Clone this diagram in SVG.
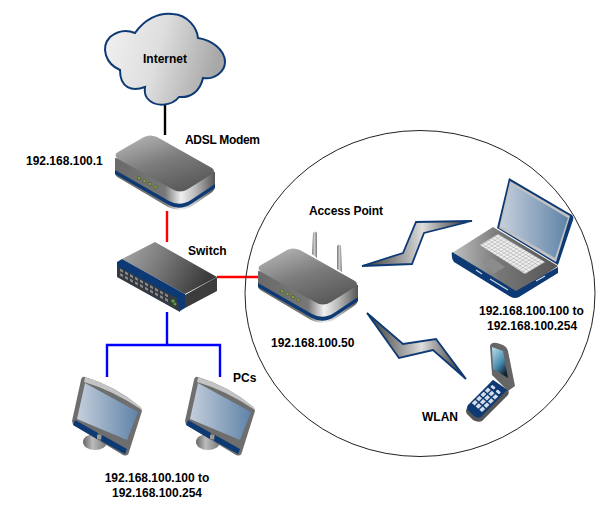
<svg xmlns="http://www.w3.org/2000/svg" xmlns:xlink="http://www.w3.org/1999/xlink" width="612" height="532" viewBox="0 0 612 532">
<style>
text{font-family:"Liberation Sans",Arial,sans-serif;font-size:12px;font-weight:bold;fill:#000}
.c{text-anchor:middle}
.k{fill:none;stroke-width:2.4}
.led{fill:#8c9c40;stroke:#3c5a30;stroke-width:.6}
.navy{fill:#0d3a74}
.key{fill:#d5dde8}
.b{stroke:#0d3a74;stroke-width:1.800;stroke-linejoin:miter}
</style>
<defs>
<linearGradient id="cloud" x1="0" y1="0" x2="1" y2="0.2"><stop offset="0" stop-color="#f2f2f2"/><stop offset=".5" stop-color="#dedede"/><stop offset="1" stop-color="#a8a8a8"/></linearGradient>
<linearGradient id="top" x1="0.1" y1="0" x2="0.7" y2="1"><stop offset="0" stop-color="#b8b8b8"/><stop offset=".5" stop-color="#7c7c7c"/><stop offset="1" stop-color="#585858"/></linearGradient>
<linearGradient id="wall" x1="0" y1="0" x2="1" y2="0"><stop offset="0" stop-color="#6a6a6a"/><stop offset=".5" stop-color="#777"/><stop offset=".66" stop-color="#f0f0f0"/><stop offset=".8" stop-color="#bbb"/><stop offset="1" stop-color="#555"/></linearGradient>
<linearGradient id="screen" x1="0" y1="0" x2="1" y2="0"><stop offset="0" stop-color="#c5cfdc"/><stop offset="1" stop-color="#5f83a8"/></linearGradient>
<linearGradient id="bolt" x1="0" y1="0" x2="1" y2="0"><stop offset="0" stop-color="#333"/><stop offset=".45" stop-color="#bbb"/><stop offset=".55" stop-color="#ddd"/><stop offset="1" stop-color="#222"/></linearGradient>
<linearGradient id="swtop" x1="0" y1="0" x2="1" y2="0.3"><stop offset="0" stop-color="#aaa"/><stop offset=".5" stop-color="#777"/><stop offset="1" stop-color="#3c3c3c"/></linearGradient>
<linearGradient id="phone" x1="0" y1="0" x2="0.6" y2="1"><stop offset="0" stop-color="#bfe0ee"/><stop offset=".6" stop-color="#4a8fb0"/><stop offset="1" stop-color="#123"/></linearGradient>
<linearGradient id="deck" x1="0" y1="0" x2="1" y2="0"><stop offset="0" stop-color="#c0c0c0"/><stop offset=".45" stop-color="#777"/><stop offset="1" stop-color="#555"/></linearGradient>
<linearGradient id="stand" x1="0" y1="0" x2="1" y2="0"><stop offset="0" stop-color="#666"/><stop offset=".4" stop-color="#bbb"/><stop offset="1" stop-color="#777"/></linearGradient>
<linearGradient id="ant" x1="0" y1="0" x2="1" y2="0"><stop offset="0" stop-color="#777"/><stop offset=".5" stop-color="#ccc"/><stop offset="1" stop-color="#777"/></linearGradient>
<pattern id="keys" width="3.600" height="3.600" patternUnits="userSpaceOnUse" patternTransform="matrix(.86,.5,-.85,.53,0,0)"><rect width="3.600" height="3.600" fill="#eee"/><path d="M0,0H3.600M0,0V3.600" stroke="#888" stroke-width=".7" fill="none"/></pattern>
<g id="router">
<path d="M115,158 L115,173 Q115,176 119,178 L168,207 Q180,213 192,206 L211,193 Q215,190 215,186 L215,172 Z" fill="url(#wall)"/>
<path d="M115,170 L169,201 Q180,207 191,200 L215,184 L215,188 L191,204 Q180,211 169,205 L115,174 Z" class="navy"/>
<path d="M118,152 L144,137 Q150,134 157,137 L212,168 Q216,171 212,174 L188,189 Q180,194 172,189 L118,159 Q113,155 118,152 Z" fill="url(#top)"/>
<circle class="led" cx="139" cy="178" r="1.700"/><circle class="led" cx="144.500" cy="181" r="1.700"/><circle class="led" cx="150" cy="184" r="1.700"/><circle class="led" cx="155.500" cy="187" r="1.700"/>
</g>
<g id="monitor">
<ellipse cx="95" cy="442" rx="12" ry="8" fill="url(#stand)"/>
<path d="M85,377 Q82,376 81,380 L72,421 Q72,424 75,426 L123,455 Q128,457 129,452 L142,411 Q142,408 139,406 Q115,386 85,377 Z" fill="#6e6e6e"/>
<path d="M85,377 Q115,386 139,406 Q142,408 142,410 Q112,390 84,382 Z" fill="#c4c4c4"/>
<path d="M85,383 L138,412 L127,440 L77,419 Z" fill="url(#screen)"/>
<path d="M75,420 L98,433 L97,439 L73,425 Z M102,435 L127,449 L125,454 L101,441 Z" class="navy"/>
<rect x="97" y="435" width="4" height="4" fill="#999"/>
</g>
</defs>
<rect width="612" height="532" fill="#fff"/>
<g id="connectors">
<path d="M165,105V135" class="k" stroke="#000"/>
<path d="M167,211V242M217,277H258" class="k" stroke="#f00"/>
<path d="M167,312V345M107,377V345H220V377" class="k" stroke="#00f"/>
</g>
<ellipse id="wlan-zone" cx="420" cy="293.500" rx="175" ry="163" fill="none" stroke="#222" stroke-width="1"/>
<g id="internet">
<path d="M110,37 C120,29 128,30 135,33 C144,20 158,12 173,14 C188,15 197,28 198,38 C212,40 225,50 225,62 C225,72 214,80 203,78 C200,92 190,98 179,97 C172,106 155,108 147,98 C144,94 145,87 145,87 C132,92 120,88 120,70 C106,64 100,48 110,37 Z" fill="url(#cloud)" stroke="#0d3a74" stroke-width="2"/>
<text x="143" y="63">Internet</text>
</g>
<g id="adsl-modem">
<use xlink:href="#router" href="#router"/>
<text x="185" y="144" textLength="75">ADSL Modem</text>
<text x="26" y="165">192.168.100.1</text>
</g>
<g id="switch">
<path d="M155,242 L217,277 L185,294 L122,259 Z" fill="url(#swtop)"/>
<path d="M185,295 L217,277 V291 L185,308 Z" fill="#3c3c3c"/>
<path d="M117,262 L180,298 V312 L117,277 Z" fill="#333a42"/>
<path d="M117,262 L122,259 L185,294 V308 L180,311 L177,298 L117,266 Z" class="navy"/>
<g transform="matrix(1,.55,0,1,0,0)" fill="#8a8a8a">
<path d="M120,202.500h3v2.500h-3zM125,202.500h3v2.500h-3zM130,202.500h3v2.500h-3zM135,202.500h3v2.500h-3zM140,202.500h3v2.500h-3zM145,202.500h3v2.500h-3zM150,202.500h3v2.500h-3zM155,202.500h3v2.500h-3zM160,202.500h3v2.500h-3zM165,202.500h3v2.500h-3zM120,207h3v2.500h-3zM125,207h3v2.500h-3zM130,207h3v2.500h-3zM135,207h3v2.500h-3zM140,207h3v2.500h-3zM145,207h3v2.500h-3zM150,207h3v2.500h-3zM155,207h3v2.500h-3zM160,207h3v2.500h-3zM165,207h3v2.500h-3z"/>
</g>
<circle cx="173" cy="301" r="1.800" fill="#5ca040"/><circle cx="175" cy="304" r="1.500" fill="#5ca040"/>
<text x="188" y="255">Switch</text>
</g>
<g id="access-point">
<path d="M313,233 Q315,230 317,233 L317,258 L312,254 Z" fill="url(#ant)"/>
<path d="M337,246 Q339,243 341,246 L342,272 L337,269 Z" fill="url(#ant)"/>
<use xlink:href="#router" href="#router" transform="translate(143,113)"/>
<text x="309" y="215" textLength="74">Access Point</text>
<text x="271" y="347">192.168.100.50</text>
</g>
<g id="pc-1"><use xlink:href="#monitor" href="#monitor"/></g>
<g id="pc-2"><use xlink:href="#monitor" href="#monitor" transform="translate(113,0)"/>
<text x="233" y="382">PCs</text>
</g>
<text x="157" y="482" class="c">192.168.100.100 to</text>
<text x="157" y="497" class="c">192.168.100.254</text>
<g id="wireless">
<path d="M362,266 L403,253 L416,222 L472,221 L424,233 L412,264 Z" fill="url(#bolt)" class="b"/>
<path d="M367,313 L403,344 L436,339 L466,379 L433,350 L399,358 Z" fill="url(#bolt)" class="b"/>
</g>
<g id="laptop">
<path d="M509,178 L572,215 Q574,217 573,220 L558,265 L497,228 Z" fill="#0d3a74"/>
<path d="M510,181 L570,216 L556,262 L499,228 Z" fill="#c2c2c2"/>
<path d="M511,184 L568,218 L555,258 L501,226 Z" fill="url(#screen)"/>
<path d="M452,253 L493,227 L558,266 L520,292 L514,296 Z" fill="url(#deck)"/>
<path d="M452,252 L516,291 L558,267 L558,273 L519,297 Q515,299 511,297 L454,262 Q451,258 452,252 Z" class="navy"/>
<path d="M480,245 L498,234 L545,262 L525,274 Z" fill="url(#keys)"/>
<path d="M482,262 L492,258 L505,267 L493,274 Z" fill="#8c8c8c"/>
<path d="M476,270L482,274M490,279L508,290M536,281L545,276" stroke="#cfd8e4" stroke-width="1.200" fill="none"/>
<text x="479" y="315">192.168.100.100 to</text>
<text x="487" y="330">192.168.100.254</text>
</g>
<g id="phone-device">
<path d="M490,346 Q491,342 497,343 L503,345 Q507,347 508,351 L515,386 L508,391 L498,381 L492,375 Z" fill="#666"/>
<path d="M492,347 L503,351 L508,378 L493,369 Z" fill="url(#phone)"/>
<path d="M493,380 L508,390 Q510,393 507,396 L482,421 Q478,423 473,420 L467,414 Q465,411 467,408 Z" fill="#555"/>
<path d="M493,380 L507,390 L481,417 Q478,419 474,416 L468,410 Q466,408 468,405 Z" class="navy"/>
<g transform="matrix(-.72,.69,.75,.66,493,380)" class="key">
<rect x="4" y="3" width="3" height="4.500" rx="1"/><rect x="4" y="10" width="3" height="4.500" rx="1"/>
<rect x="9" y="2" width="4.500" height="3.600"/><rect x="9" y="7" width="4.500" height="3.600"/><rect x="9" y="12" width="4.500" height="3.600"/>
<rect x="15" y="2" width="4.500" height="3.600"/><rect x="15" y="7" width="4.500" height="3.600"/><rect x="15" y="12" width="4.500" height="3.600"/>
<rect x="21" y="2" width="4.500" height="3.600"/><rect x="21" y="7" width="4.500" height="3.600"/><rect x="21" y="12" width="4.500" height="3.600"/>
<rect x="27" y="2" width="4.500" height="3.600"/><rect x="27" y="7" width="4.500" height="3.600"/><rect x="27" y="12" width="4.500" height="3.600"/>
</g>
<text x="422" y="421">WLAN</text>
</g>
</svg>
